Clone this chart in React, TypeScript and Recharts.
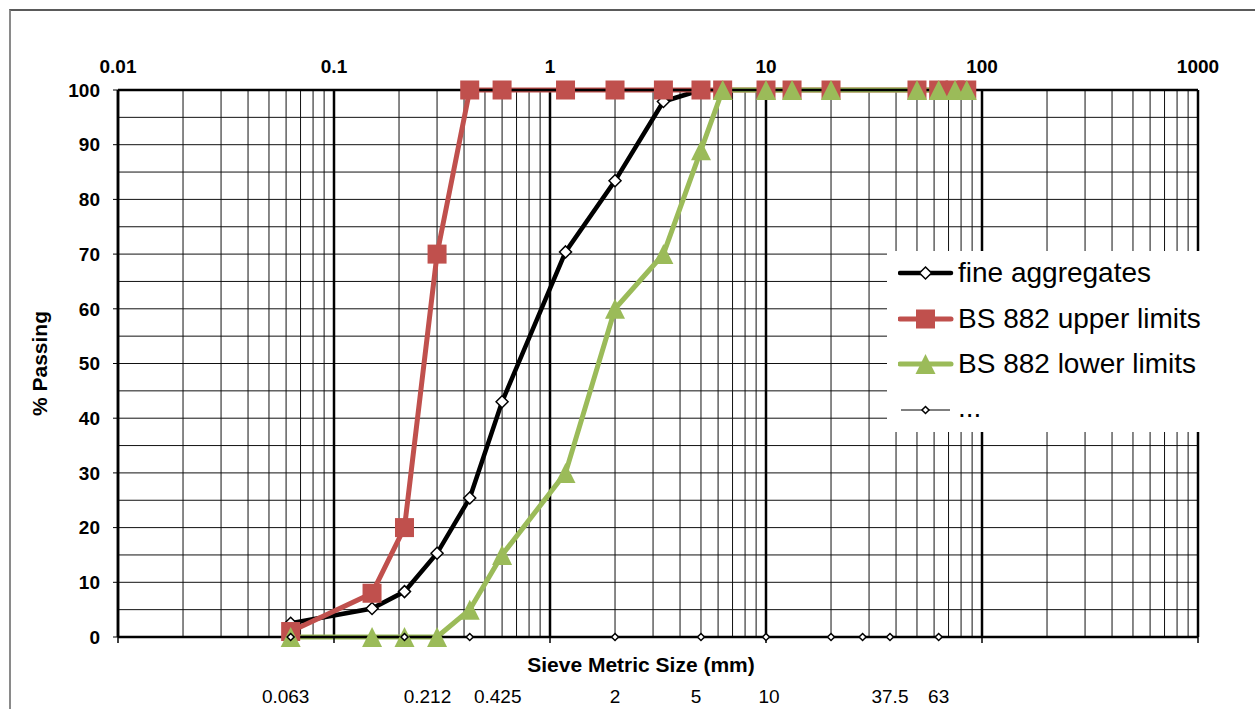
import { ComposedChart, Line, XAxis, YAxis, CartesianGrid, Legend } from 'recharts';

const sieves = [0.063, 0.15, 0.212, 0.3, 0.425, 0.6, 1.18, 2, 3.35, 5, 6.3, 10, 13.2, 20, 50, 63, 75, 85];
const fineAggregates = [2.5, 5.2, 8.3, 15.3, 25.4, 43, 70.4, 83.4, 97.9, 100, null, null, null, null, null, null, null, null];
const upperLimits = [1, 8, 20, 70, 100, 100, 100, 100, 100, 100, 100, 100, 100, 100, 100, 100, 100, 100];
const lowerLimits = [0, 0, 0, 0, 5, 15, 30, 60, 70, 89, 100, 100, 100, 100, 100, 100, 100, 100];

const markerSieves = [0.063, 0.212, 0.425, 2, 5, 10, 20, 28, 37.5, 63];
const markerValues = [0, 0, 0, 0, 0, 0, 0, 0, 0, 0];

const decadeTicks = [0.01, 0.1, 1, 10, 100, 1000];
const multipliers = [1, 2, 3, 4, 5, 6, 7, 8, 9];
const minorTicks = decadeTicks.flatMap((d) => (d === 1000 ? [d] : multipliers.map((m) => m * d)));
const percentTicks = [0, 10, 20, 30, 40, 50, 60, 70, 80, 90, 100];
const gridPercent = [0, 5, 10, 15, 20, 25, 30, 35, 40, 45, 50, 55, 60, 65, 70, 75, 80, 85, 90, 95, 100];
const sieveLabels = [0.063, 0.212, 0.425, 2, 5, 10, 37.5, 63];

const seriesNames = ['fine aggregates', 'BS 882 upper limits', 'BS 882 lower limits', '...'];

const rows = sieves.map((x, i) => ({
  x,
  fine: fineAggregates[i],
  upper: upperLimits[i],
  lower: lowerLimits[i],
}));
const markerRows = markerSieves.map((x, i) => ({ x, marker: markerValues[i] }));

const FONT = '"Liberation Sans", Arial, sans-serif';
const RED = '#C0504D';
const GREEN = '#9BBB59';
const LABEL_NUDGE: Record<string, number> = { '0.063': -5, '0.212': 23, '0.425': 28, '5': -5, '10': 3 };

const diamond = (cx: number, cy: number, r: number) =>
  `M${cx},${cy - r} L${cx + r},${cy} L${cx},${cy + r} L${cx - r},${cy} Z`;

function BigDiamond(p: any) {
  if (p.cx == null || p.cy == null || p.value == null) return <g key={`bd-${p.index}`} />;
  return <path key={`bd-${p.index}`} d={diamond(p.cx, p.cy, 6)} fill="#fff" stroke="#000" strokeWidth={1.5} />;
}

function SmallDiamond(p: any) {
  if (p.cx == null || p.cy == null) return <g key={`sd-${p.index}`} />;
  return <path key={`sd-${p.index}`} d={diamond(p.cx, p.cy, 3.5)} fill="#fff" stroke="#000" strokeWidth={1.5} />;
}

function Square(p: any) {
  if (p.cx == null || p.cy == null) return <g key={`sq-${p.index}`} />;
  return <rect key={`sq-${p.index}`} x={p.cx - 9.5} y={p.cy - 9.5} width={19} height={19} fill={RED} />;
}

function Triangle(p: any) {
  if (p.cx == null || p.cy == null) return <g key={`tr-${p.index}`} />;
  const { cx, cy } = p;
  return <path key={`tr-${p.index}`} d={`M${cx},${cy - 10} L${cx + 10},${cy + 10} L${cx - 10},${cy + 10} Z`} fill={GREEN} />;
}

function SieveTick({ x, y, payload }: any) {
  const nudge = LABEL_NUDGE[String(payload.value)] ?? 0;
  return (
    <text x={x + nudge} y={y + 46} textAnchor="middle" fontSize={19} fontFamily={FONT} fill="#000">
      {payload.value}
    </text>
  );
}

function LegendIcon({ i }: { i: number }) {
  if (i === 0)
    return (
      <svg width={60} height={30}>
        <line x1={2} y1={15} x2={53} y2={15} stroke="#000" strokeWidth={4.5} strokeLinecap="round" />
        <path d={diamond(27.5, 15, 6)} fill="#fff" stroke="#000" strokeWidth={1.5} />
      </svg>
    );
  if (i === 1)
    return (
      <svg width={60} height={30}>
        <line x1={2} y1={15} x2={53} y2={15} stroke={RED} strokeWidth={5} strokeLinecap="round" />
        <rect x={18} y={5.5} width={19} height={19} fill={RED} />
      </svg>
    );
  if (i === 2)
    return (
      <svg width={60} height={30}>
        <line x1={2} y1={15} x2={53} y2={15} stroke={GREEN} strokeWidth={5} strokeLinecap="round" />
        <path d="M27.5,5 L37.5,25 L17.5,25 Z" fill={GREEN} />
      </svg>
    );
  return (
    <svg width={60} height={30}>
      <line x1={3} y1={15} x2={52} y2={15} stroke="#000" strokeWidth={1} />
      <path d={diamond(27.5, 15, 3.5)} fill="#fff" stroke="#000" strokeWidth={1.5} />
    </svg>
  );
}

function LegendBox() {
  return (
    <div style={{ background: '#fff', width: 368, height: 181, fontFamily: FONT, fontSize: 28, color: '#000' }}>
      <div style={{ marginTop: -1.5 }}>
        {seriesNames.map((name, i) => (
          <div key={name} style={{ display: 'flex', alignItems: 'center', height: 45.5, paddingLeft: 11 }}>
            <LegendIcon i={i} />
            <span style={{ lineHeight: 1, whiteSpace: 'nowrap', marginTop: i === 3 ? -4 : 0 }}>{name}</span>
          </div>
        ))}
      </div>
    </div>
  );
}

export default function App() {
  return (
    <div style={{ position: 'absolute', left: 0, top: 0, width: 1255, height: 709, background: '#fff', overflow: 'hidden' }}>
      <div
        style={{
          position: 'absolute',
          left: 9,
          top: 9,
          width: 1300,
          height: 800,
          borderLeft: '2px solid #8a8a8a',
          borderTop: '2px solid #5a5a5a',
        }}
      />
      <div style={{ position: 'absolute', left: 0, top: 0 }}>
        <ComposedChart width={1255} height={709} data={rows} margin={{ top: 50, right: 57, bottom: 0, left: 0 }}>
          <XAxis
            xAxisId="top"
            orientation="top"
            dataKey="x"
            type="number"
            scale="log"
            domain={[0.01, 1000]}
            ticks={decadeTicks}
            interval={0}
            height={40}
            tickLine={false}
            tickSize={0}
            tickMargin={17}
            axisLine={{ stroke: '#000', strokeWidth: 2.5 }}
            tick={{ fontSize: 19, fontWeight: 'bold', fill: '#000', fontFamily: FONT }}
          />
          <XAxis
            xAxisId="dec"
            orientation="bottom"
            dataKey="x"
            type="number"
            scale="log"
            domain={[0.01, 1000]}
            ticks={decadeTicks}
            interval={0}
            height={20}
            tickSize={6}
            tickLine={{ stroke: '#000', strokeWidth: 1.5 }}
            axisLine={{ stroke: '#000', strokeWidth: 2.5 }}
            tick={() => <g />}
          />
          <XAxis
            xAxisId="lab"
            orientation="bottom"
            dataKey="x"
            type="number"
            scale="log"
            domain={[0.01, 1000]}
            ticks={sieveLabels}
            interval={0}
            height={52}
            tickLine={false}
            axisLine={false}
            tickSize={0}
            tickMargin={0}
            tick={<SieveTick />}
            label={{
              content: ({ viewBox }: any) => (
                <text
                  x={viewBox.x + viewBox.width / 2 - 17}
                  y={viewBox.y + 15}
                  textAnchor="middle"
                  fontSize={21}
                  fontWeight="bold"
                  fontFamily={FONT}
                  fill="#000"
                >
                  Sieve Metric Size (mm)
                </text>
              ),
            }}
          />
          <YAxis
            yAxisId="y"
            type="number"
            domain={[0, 100]}
            ticks={percentTicks}
            interval={0}
            width={118}
            tickSize={5}
            tickMargin={13}
            tickLine={{ stroke: '#000', strokeWidth: 1 }}
            axisLine={{ stroke: '#000', strokeWidth: 2.5 }}
            tick={{ fontSize: 19, fontWeight: 'bold', fill: '#000', fontFamily: FONT }}
            label={{
              content: ({ viewBox }: any) => {
                const cx = viewBox.x + 39;
                const cy = viewBox.y + viewBox.height / 2;
                return (
                  <text
                    x={cx}
                    y={cy}
                    transform={`rotate(-90, ${cx}, ${cy})`}
                    textAnchor="middle"
                    dominantBaseline="central"
                    fontSize={21}
                    fontWeight="bold"
                    fontFamily={FONT}
                    fill="#000"
                  >
                    % Passing
                  </text>
                );
              },
            }}
          />
          <XAxis
            xAxisId="minor"
            orientation="bottom"
            dataKey="x"
            type="number"
            scale="log"
            domain={[0.01, 1000]}
            ticks={minorTicks}
            interval={0}
            height={0}
            hide
          />
          <YAxis
            yAxisId="minorY"
            dataKey="upper"
            type="number"
            domain={[0, 100]}
            ticks={gridPercent}
            interval={0}
            width={0}
            hide
          />
          <CartesianGrid xAxisId="minor" yAxisId="minorY" stroke="#111" strokeWidth={1} />
          <CartesianGrid xAxisId="top" yAxisId="y" horizontal={false} stroke="#000" strokeWidth={2.5} />
          <Line
            xAxisId="top"
            yAxisId="y"
            dataKey="fine"
            name={seriesNames[0]}
            type="linear"
            stroke="#000"
            strokeWidth={4.5}
            dot={BigDiamond}
            activeDot={false}
            isAnimationActive={false}
          />
          <Line
            xAxisId="top"
            yAxisId="y"
            dataKey="upper"
            name={seriesNames[1]}
            type="linear"
            stroke={RED}
            strokeWidth={5}
            dot={Square}
            activeDot={false}
            isAnimationActive={false}
          />
          <Line
            xAxisId="top"
            yAxisId="y"
            dataKey="lower"
            name={seriesNames[2]}
            type="linear"
            stroke={GREEN}
            strokeWidth={5}
            dot={Triangle}
            activeDot={false}
            isAnimationActive={false}
          />
          <Line
            xAxisId="top"
            yAxisId="y"
            data={markerRows}
            dataKey="marker"
            name={seriesNames[3]}
            type="linear"
            stroke="#000"
            strokeWidth={1}
            dot={SmallDiamond}
            activeDot={false}
            isAnimationActive={false}
          />
          <Legend
            layout="horizontal"
            verticalAlign="middle"
            align="center"
            content={() => <LegendBox />}
            wrapperStyle={{ left: 887, top: 252, width: 368, height: 181 }}
          />
        </ComposedChart>
      </div>
    </div>
  );
}
